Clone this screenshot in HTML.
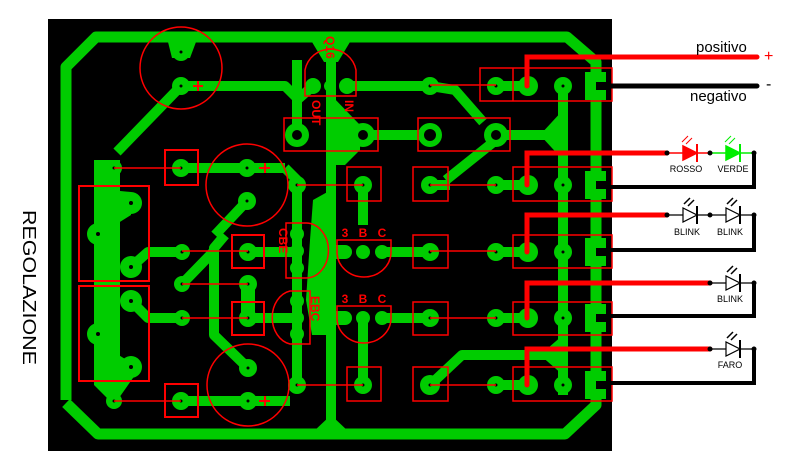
<!DOCTYPE html>
<html><head><meta charset="utf-8"><style>
html,body{margin:0;padding:0;background:#fff;}
svg{display:block;}
text{font-family:"Liberation Sans",sans-serif;}
</style></head><body>
<svg width="795" height="470" viewBox="0 0 795 470" xmlns="http://www.w3.org/2000/svg">
<rect x="0" y="0" width="795" height="470" fill="#fff"/>
<rect x="48" y="19" width="564" height="432" fill="#000"/>
<text x="0" y="0" transform="translate(23,210) rotate(90)" font-size="18" textLength="155" lengthAdjust="spacingAndGlyphs" fill="#000">REGOLAZIONE</text>

<g stroke="#00cc00" fill="none" stroke-linejoin="round">
 <polyline stroke-width="11" points="66,400 66,67 96,37 567,37 596,62 596,405 565,434 98,434 66,403"/>
 <line x1="331" y1="37" x2="331" y2="434" stroke-width="10"/>
 <polyline stroke-width="10" points="181,86 285,86 297,98 297,135"/>
 <polyline stroke-width="10" points="181,86 117,152"/>
 <line x1="107" y1="160" x2="107" y2="385" stroke-width="26"/>
 <line x1="181" y1="168" x2="285" y2="168" stroke-width="10"/>
 <polyline stroke-width="10" points="285,168 297,180 297,385"/>
 <line x1="247" y1="201" x2="215" y2="235" stroke-width="10"/>
 <polyline stroke-width="10" points="131,267 148,252 182,252"/>
 <polyline stroke-width="10" points="131,301 148,318 182,318"/>
 <line x1="248" y1="252" x2="297" y2="252" stroke-width="10"/>
 <line x1="248" y1="318" x2="297" y2="318" stroke-width="10"/>
 <line x1="182" y1="284" x2="215" y2="250" stroke-width="10"/>
 <polyline stroke-width="10" points="225,235 214,248 214,335 248,368"/>
 <line x1="248" y1="284" x2="248" y2="318" stroke-width="14"/>
 <line x1="181" y1="401" x2="290" y2="401" stroke-width="10"/>
 <line x1="347" y1="86" x2="430" y2="86" stroke-width="10"/>
 <line x1="297" y1="60" x2="297" y2="135" stroke-width="10"/>
 <line x1="313" y1="86" x2="297" y2="100" stroke-width="10"/>
 <line x1="363" y1="135" x2="430" y2="135" stroke-width="10"/>
 <polyline stroke-width="10" points="430,86 455,90 483,122"/>
 <line x1="496" y1="135" x2="563" y2="135" stroke-width="10"/>
 <line x1="496" y1="140" x2="446" y2="180" stroke-width="10"/>
 <line x1="430" y1="185" x2="450" y2="185" stroke-width="10"/>
 <line x1="363" y1="185" x2="363" y2="225" stroke-width="10"/>
 <line x1="363" y1="318" x2="363" y2="385" stroke-width="10"/>
 <line x1="382" y1="252" x2="430" y2="252" stroke-width="10"/>
 <line x1="382" y1="318" x2="430" y2="318" stroke-width="10"/>
 <line x1="345" y1="252" x2="331" y2="252" stroke-width="14"/>
 <line x1="345" y1="318" x2="331" y2="318" stroke-width="14"/>
 <polyline stroke-width="10" points="430,385 462,355 558,355"/>
 <line x1="496" y1="86" x2="528" y2="86" stroke-width="10"/>
 <line x1="496" y1="185" x2="528" y2="185" stroke-width="10"/>
 <line x1="496" y1="252" x2="528" y2="252" stroke-width="10"/>
 <line x1="496" y1="318" x2="528" y2="318" stroke-width="10"/>
 <line x1="496" y1="385" x2="528" y2="385" stroke-width="10"/>
 <line x1="563" y1="86" x2="563" y2="395" stroke-width="10"/>
</g>
<g fill="#00cc00">
 <polygon points="312,42 350,42 338,62 324,62"/>
 <polygon points="168,42 196,42 190,58 172,58"/>
 <polygon points="313,200 331,190 331,335 312,335 306,300 310,240"/>
 <polygon points="331,95 360,125 360,150 345,165 331,165"/>
 <polygon points="94,340 140,368 114,405 94,385"/>
 <polygon points="110,190 131,192 131,215 115,225"/>
 <polygon points="313,432 331,415 349,432"/>
 <polygon points="540,135 563,110 563,160"/>
 <polygon points="540,355 563,335 563,375"/>
</g>
<g fill="#00cc00">
 <circle cx="181" cy="52" r="9"/><circle cx="181" cy="86" r="9"/>
 <circle cx="114" cy="168" r="8"/><circle cx="181" cy="168" r="9"/>
 <circle cx="247" cy="168" r="9"/><circle cx="247" cy="201" r="9"/>
 <circle cx="131" cy="203" r="11"/><circle cx="98" cy="234" r="11"/>
 <circle cx="131" cy="267" r="11"/><circle cx="131" cy="301" r="11"/>
 <circle cx="98" cy="334" r="11"/><circle cx="131" cy="367" r="11"/>
 <circle cx="114" cy="401" r="8"/>
 <circle cx="182" cy="252" r="8"/><circle cx="182" cy="284" r="8"/><circle cx="182" cy="318" r="8"/>
 <circle cx="248" cy="252" r="9"/><circle cx="248" cy="284" r="9"/><circle cx="248" cy="318" r="9"/>
 <circle cx="248" cy="368" r="9"/><circle cx="248" cy="401" r="9"/><circle cx="181" cy="401" r="9"/>
 <circle cx="297" cy="185" r="9"/><circle cx="297" cy="385" r="9"/>
 <circle cx="297" cy="234" r="7"/><circle cx="297" cy="251" r="7"/><circle cx="297" cy="268" r="7"/>
 <circle cx="297" cy="301" r="7"/><circle cx="297" cy="318" r="7"/><circle cx="297" cy="334" r="7"/>
 <circle cx="313" cy="86" r="8"/><circle cx="330" cy="86" r="6"/><circle cx="347" cy="86" r="8"/>
 <circle cx="297" cy="135" r="12"/><circle cx="363" cy="135" r="12"/><circle cx="430" cy="135" r="12"/><circle cx="496" cy="135" r="12"/>
 <circle cx="430" cy="86" r="9"/><circle cx="496" cy="86" r="9"/><circle cx="528" cy="86" r="10"/><circle cx="563" cy="86" r="9"/>
 <circle cx="363" cy="185" r="9"/><circle cx="430" cy="185" r="9"/><circle cx="496" cy="185" r="9"/><circle cx="528" cy="185" r="10"/><circle cx="563" cy="185" r="9"/>
 <circle cx="345" cy="252" r="7"/><circle cx="363" cy="252" r="7"/><circle cx="382" cy="252" r="7"/>
 <circle cx="345" cy="318" r="7"/><circle cx="363" cy="318" r="7"/><circle cx="382" cy="318" r="7"/>
 <circle cx="430" cy="252" r="9"/><circle cx="496" cy="252" r="9"/><circle cx="528" cy="252" r="10"/><circle cx="563" cy="252" r="9"/>
 <circle cx="430" cy="318" r="9"/><circle cx="496" cy="318" r="9"/><circle cx="528" cy="318" r="10"/><circle cx="563" cy="318" r="9"/>
 <circle cx="363" cy="385" r="9"/><circle cx="430" cy="385" r="10"/><circle cx="496" cy="385" r="9"/><circle cx="528" cy="385" r="10"/><circle cx="563" cy="385" r="9"/>
 <rect x="585" y="72" width="21" height="28"/><rect x="585" y="171" width="21" height="28"/>
 <rect x="585" y="238" width="21" height="28"/><rect x="585" y="304" width="21" height="28"/><rect x="585" y="371" width="21" height="28"/>
</g>
<g fill="#000">
 <circle cx="297" cy="135" r="5"/><circle cx="363" cy="135" r="5"/><circle cx="430" cy="135" r="6"/><circle cx="496" cy="135" r="5"/>
 <g>
 <circle cx="181" cy="52" r="1.5"/><circle cx="181" cy="86" r="1.5"/><circle cx="114" cy="168" r="1.5"/><circle cx="181" cy="168" r="1.5"/>
 <circle cx="247" cy="168" r="1.5"/><circle cx="247" cy="201" r="1.5"/>
 <circle cx="131" cy="203" r="2"/><circle cx="98" cy="234" r="2"/><circle cx="131" cy="267" r="2"/><circle cx="131" cy="301" r="2"/><circle cx="98" cy="334" r="2"/><circle cx="131" cy="367" r="2"/>
 <circle cx="114" cy="401" r="1.5"/><circle cx="182" cy="252" r="1.5"/><circle cx="182" cy="284" r="1.5"/><circle cx="182" cy="318" r="1.5"/>
 <circle cx="248" cy="252" r="1.5"/><circle cx="248" cy="284" r="1.5"/><circle cx="248" cy="318" r="1.5"/><circle cx="248" cy="368" r="1.5"/><circle cx="248" cy="401" r="1.5"/><circle cx="181" cy="401" r="1.5"/>
 <circle cx="297" cy="185" r="1.5"/><circle cx="297" cy="385" r="1.5"/>
 <circle cx="430" cy="86" r="1.5"/><circle cx="496" cy="86" r="1.5"/><circle cx="528" cy="86" r="1.5"/><circle cx="563" cy="86" r="1.5"/>
 <circle cx="363" cy="185" r="1.5"/><circle cx="430" cy="185" r="1.5"/><circle cx="496" cy="185" r="1.5"/><circle cx="563" cy="185" r="1.5"/>
 <circle cx="430" cy="252" r="1.5"/><circle cx="496" cy="252" r="1.5"/><circle cx="563" cy="252" r="1.5"/>
 <circle cx="430" cy="318" r="1.5"/><circle cx="496" cy="318" r="1.5"/><circle cx="563" cy="318" r="1.5"/>
 <circle cx="363" cy="385" r="1.5"/><circle cx="430" cy="385" r="1.5"/><circle cx="496" cy="385" r="1.5"/><circle cx="563" cy="385" r="1.5"/>
 </g>
 <rect x="596" y="82" width="10" height="8"/><rect x="596" y="181" width="10" height="8"/><rect x="596" y="248" width="10" height="8"/><rect x="596" y="314" width="10" height="8"/><rect x="596" y="381" width="10" height="8"/>
</g>
<g stroke="#ff0000" fill="none" stroke-width="1.5">
 <circle cx="181" cy="68" r="41"/>
 <circle cx="247" cy="185" r="41"/>
 <circle cx="248" cy="385" r="41"/>
 <path d="M305,70 A26,26 0 0 1 356,70 L356,96 L305,96 Z"/>
 <rect x="284" y="118" width="94" height="33"/>
 <rect x="418" y="118" width="92" height="33"/>
 <rect x="165" y="150" width="33" height="35" stroke-width="2"/>
 <rect x="165" y="384" width="33" height="33" stroke-width="2"/>
 <rect x="79" y="186" width="70" height="95" stroke-width="2"/>
 <rect x="79" y="286" width="70" height="95" stroke-width="2"/>
 <rect x="232" y="235" width="32" height="33" stroke-width="2"/>
 <rect x="232" y="302" width="32" height="33" stroke-width="2"/>
 <rect x="347" y="167" width="34" height="34"/>
 <rect x="413" y="167" width="35" height="34"/>
 <rect x="413" y="235" width="35" height="33"/>
 <rect x="413" y="302" width="35" height="33"/>
 <rect x="347" y="367" width="34" height="34"/>
 <rect x="413" y="367" width="35" height="34"/>
 <rect x="480" y="68" width="132" height="33"/><line x1="513" y1="68" x2="513" y2="101"/>
 <rect x="513" y="167" width="99" height="34"/>
 <rect x="513" y="235" width="99" height="33"/>
 <rect x="513" y="302" width="99" height="33"/>
 <rect x="513" y="367" width="99" height="34"/>
 <path d="M286,223 L306,223 A22,27 0 0 1 306,278 L286,278 Z"/>
 <path d="M310,291 L290,291 A22,27 0 0 0 290,344 L310,344 Z"/>
 <path d="M337,252 L337,240 L391,240 L391,252 A27,25 0 0 1 337,252"/>
 <path d="M337,318 L337,306 L391,306 L391,318 A27,25 0 0 1 337,318"/>
 <line x1="114" y1="168" x2="181" y2="168"/><line x1="297" y1="185" x2="363" y2="185"/><line x1="430" y1="185" x2="496" y2="185"/>
 <line x1="430" y1="85" x2="496" y2="85"/>
 <line x1="182" y1="251" x2="248" y2="251"/><line x1="182" y1="284" x2="248" y2="284"/><line x1="182" y1="318" x2="248" y2="318"/>
 <line x1="114" y1="401" x2="181" y2="401"/><line x1="297" y1="385" x2="363" y2="385"/><line x1="430" y1="385" x2="496" y2="385"/>
 <line x1="430" y1="251" x2="496" y2="251"/><line x1="430" y1="318" x2="496" y2="318"/>
 <line x1="193" y1="86" x2="203" y2="86" stroke-width="2"/><line x1="198" y1="81" x2="198" y2="91" stroke-width="2"/>
 <line x1="259" y1="168" x2="270" y2="168" stroke-width="2"/><line x1="265" y1="163" x2="265" y2="173" stroke-width="2"/>
 <line x1="259" y1="401" x2="270" y2="401" stroke-width="2"/><line x1="265" y1="396" x2="265" y2="406" stroke-width="2"/>
</g>
<g fill="#ff0000" font-size="12" font-weight="bold" font-family="Liberation Mono,monospace">
 <text x="0" y="0" transform="translate(326,36) rotate(90)">Q16</text>
 <text x="0" y="0" transform="translate(312,100) rotate(90)">OUT</text>
 <text x="0" y="0" transform="translate(345,100) rotate(90)">IN</text>
 <text x="0" y="0" transform="translate(279,228) rotate(90)">CBE</text>
 <text x="0" y="0" transform="translate(311,296) rotate(90)">EBC</text>
 <g text-anchor="middle">
 <text x="345" y="237">3</text><text x="363" y="237">B</text><text x="382" y="237">C</text>
 <text x="345" y="303">3</text><text x="363" y="303">B</text><text x="382" y="303">C</text>
 </g>
</g>
<g stroke-linecap="round" fill="none">
 <polyline points="527,86 527,57 757,57" stroke="#ff0000" stroke-width="5"/>
 <line x1="600" y1="86" x2="757" y2="86" stroke="#000" stroke-width="5"/>
 <polyline points="527,185 527,153 667,153" stroke="#ff0000" stroke-width="5"/>
 <polyline points="527,252 527,215 667,215" stroke="#ff0000" stroke-width="5"/>
 <polyline points="527,318 527,283 710,283" stroke="#ff0000" stroke-width="5"/>
 <polyline points="527,385 527,349 710,349" stroke="#ff0000" stroke-width="5"/>
 <polyline points="600,187 754,187 754,153" stroke="#000" stroke-width="4" stroke-linecap="butt"/>
 <polyline points="600,250 754,250 754,215" stroke="#000" stroke-width="4" stroke-linecap="butt"/>
 <polyline points="600,316 754,316 754,283" stroke="#000" stroke-width="4" stroke-linecap="butt"/>
 <polyline points="600,383 754,383 754,349" stroke="#000" stroke-width="4" stroke-linecap="butt"/>
</g>
<text x="696" y="52" font-size="15" fill="#000">positivo</text>
<text x="764" y="61" font-size="16" fill="#ff0000">+</text>
<text x="690" y="101" font-size="15" fill="#000">negativo</text>
<text x="766" y="89" font-size="16" fill="#000">-</text>
<g stroke-width="1.5">
 <line x1="667" y1="153" x2="710" y2="153" stroke="#ff0000"/>
 <line x1="710" y1="153" x2="754" y2="153" stroke="#00ee00"/>
 <polygon points="683,146 683,160 697,153" fill="#ff0000" stroke="#ff0000"/>
 <line x1="697" y1="144" x2="697" y2="162" stroke="#ff0000" stroke-width="2"/>
 <polygon points="726,146 726,160 740,153" fill="#00ee00" stroke="#00ee00"/>
 <line x1="740" y1="144" x2="740" y2="162" stroke="#00ee00" stroke-width="2"/>
 <path d="M682,142 l6,-6 M686,144 l6,-6" stroke="#ff0000" stroke-width="1"/>
 <path d="M725,142 l6,-6 M729,144 l6,-6" stroke="#00ee00" stroke-width="1"/>
</g>
<g fill="#000"><circle cx="667" cy="153" r="2.5"/><circle cx="710" cy="153" r="2.5"/><circle cx="754" cy="153" r="2.5"/></g>
<g stroke="#000" stroke-width="1.2" fill="#fff">
 <line x1="667" y1="215" x2="754" y2="215"/>
 <polygon points="683,208 683,222 697,215"/><line x1="697" y1="206" x2="697" y2="224" stroke-width="2"/>
 <polygon points="726,208 726,222 740,215"/><line x1="740" y1="206" x2="740" y2="224" stroke-width="2"/>
 <line x1="710" y1="283" x2="754" y2="283"/>
 <polygon points="726,276 726,290 740,283"/><line x1="740" y1="274" x2="740" y2="292" stroke-width="2"/>
 <line x1="710" y1="349" x2="754" y2="349"/>
 <polygon points="726,342 726,356 740,349"/><line x1="740" y1="340" x2="740" y2="358" stroke-width="2"/>
 <path d="M684,204 l6,-6 M688,206 l6,-6 M727,204 l6,-6 M731,206 l6,-6 M727,272 l6,-6 M731,274 l6,-6 M727,338 l6,-6 M731,340 l6,-6" stroke-width="1.5"/>
</g>
<g fill="#000">
 <circle cx="667" cy="215" r="2.5"/><circle cx="710" cy="215" r="2.5"/><circle cx="754" cy="215" r="2.5"/>
 <circle cx="710" cy="283" r="2.5"/><circle cx="754" cy="283" r="2.5"/>
 <circle cx="710" cy="349" r="2.5"/><circle cx="754" cy="349" r="2.5"/>
</g>
<g font-size="9" fill="#000" text-anchor="middle">
 <text x="686" y="172">ROSSO</text><text x="733" y="172">VERDE</text>
 <text x="687" y="235">BLINK</text><text x="730" y="235">BLINK</text>
 <text x="730" y="302">BLINK</text><text x="730" y="368">FARO</text>
</g>
</svg>
</body></html>
